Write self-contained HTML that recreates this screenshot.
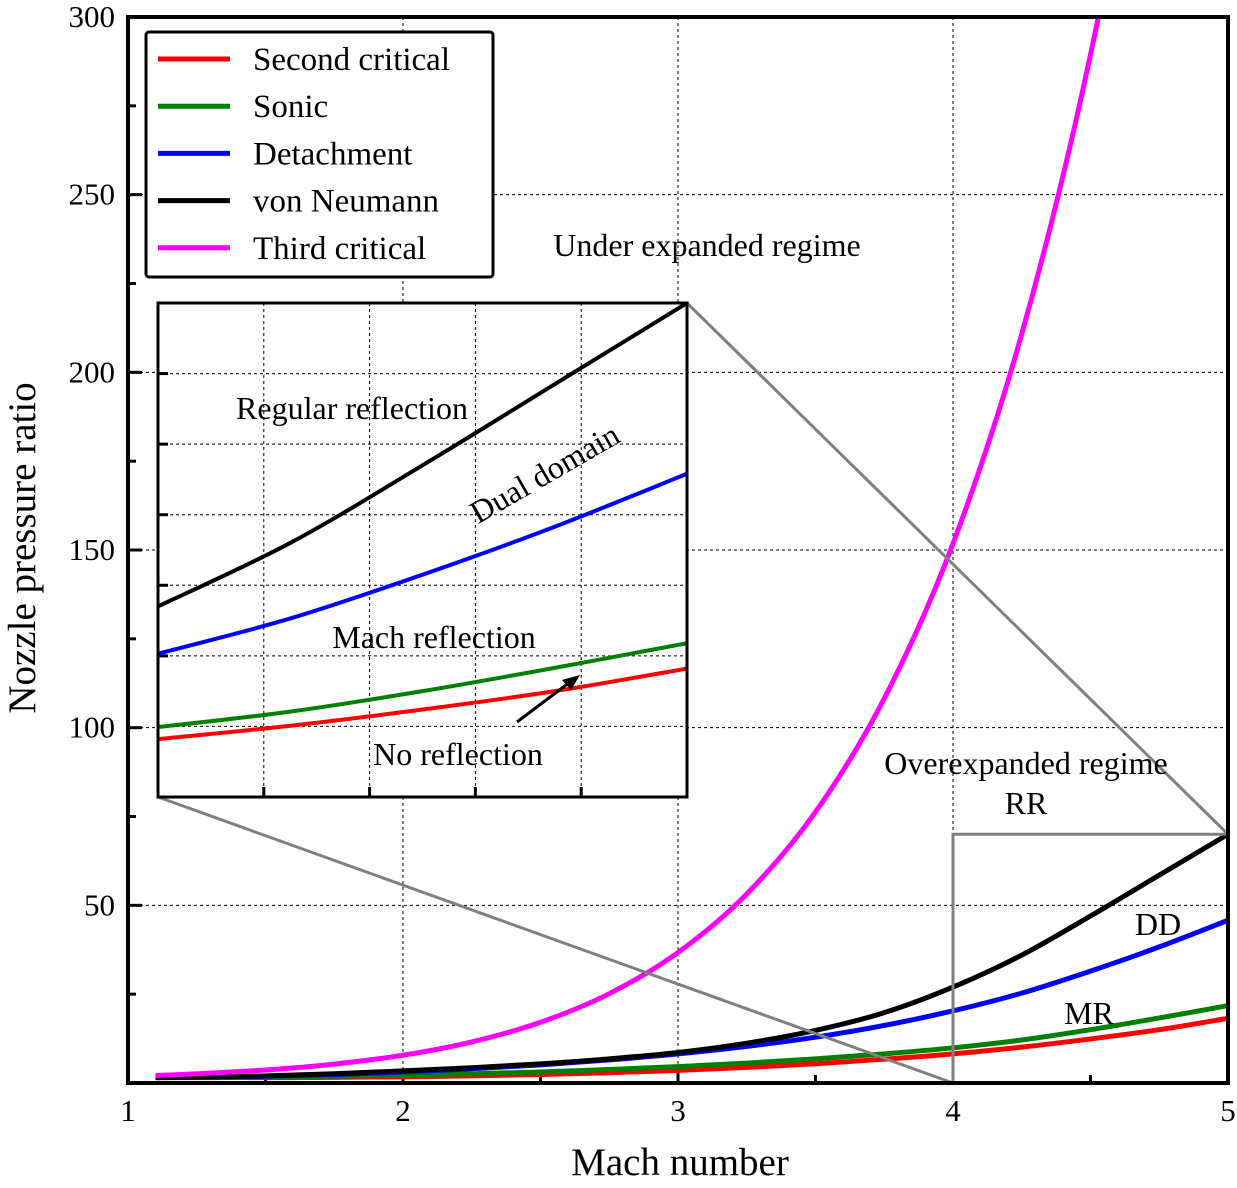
<!DOCTYPE html>
<html><head><meta charset="utf-8">
<style>
html,body{margin:0;padding:0;background:#fff;}
svg{display:block;font-family:"Liberation Serif",serif;}
</style></head>
<body>
<svg id="chart" width="1237" height="1188" viewBox="0 0 1237 1188" xmlns="http://www.w3.org/2000/svg"></svg>
<script>
const machValues = [1.1,1.25,1.5,1.75,2,2.25,2.5,2.75,3,3.25,3.5,3.75,4,4.25,4.5,4.75,5];
const secondCritical = [1.9,1.7,1.5,1.6,1.74,2.0,2.4,2.9,3.55,4.4,5.4,6.7,8.2,10.1,12.4,15.0,18.2];
const sonic = [1.5,1.5,1.6,1.9,2.2,2.6,3.1,3.8,4.6,5.6,6.8,8.2,9.9,12.1,15.0,18.3,21.8];
const detachment = [1.5,1.6,1.9,2.4,3.1,4.0,5.1,6.5,8.2,10.3,12.9,16.2,20.3,25.3,31.5,38.3,45.8];
const vonNeumann = [1.5,1.7,2.0,2.6,3.4,4.3,5.4,6.8,8.6,11.2,14.8,19.8,27.0,36.0,47.0,58.5,70.0];
const thirdCritical = [2.1,2.59,3.67,5.32,7.82,11.56,17.09,25.14,36.73,53.2,76.27,108.2,151.8,210.8,289.4,393,529];
const xTicks = [1,2,3,4,5];
const yTicks = [50,100,150,200,250,300];
const insetXGrid = [4.2,4.4,4.6,4.8];
const insetYGrid = [10,20,30,40,50,60];
const seriesNames = ["Second critical","Sonic","Detachment","von Neumann","Third critical"];
const seriesColors = ["#ff0000","#008000","#0000ff","#000000","#ff00ff"];
const seriesData = [secondCritical,sonic,detachment,vonNeumann,thirdCritical];

const svg = document.getElementById('chart');
const NS = 'http://www.w3.org/2000/svg';
function el(tag, attrs, parent){const e=document.createElementNS(NS,tag);for(const k in attrs)e.setAttribute(k,attrs[k]);(parent||svg).appendChild(e);return e;}

const X0=128,X1=1228,Y0=1083,Y1=17;
const xs=m=>X0+(m-1)/4*(X1-X0);
const ys=v=>Y0-v/300*(Y0-Y1);
const IX0=158,IX1=687,IY0=797,IY1=303;
const ixs=m=>IX0+(m-4)*(IX1-IX0);
const iys=v=>IY0-v/70*(IY0-IY1);

function curvePath(px,py){
  let d='M'+px[0]+','+py[0];
  for(let i=0;i<px.length-1;i++){
    const p0=[px[Math.max(i-1,0)],py[Math.max(i-1,0)]],p1=[px[i],py[i]],p2=[px[i+1],py[i+1]],p3=[px[Math.min(i+2,px.length-1)],py[Math.min(i+2,px.length-1)]];
    const c1=[p1[0]+(p2[0]-p0[0])/6,p1[1]+(p2[1]-p0[1])/6],c2=[p2[0]-(p3[0]-p1[0])/6,p2[1]-(p3[1]-p1[1])/6];
    d+=' C'+c1[0]+','+c1[1]+' '+c2[0]+','+c2[1]+' '+p2[0]+','+p2[1];
  }
  return d;
}

const defs=el('defs',{});
const cp=el('clipPath',{id:'mainclip'},defs);el('rect',{x:X0,y:Y1,width:X1-X0,height:Y0-Y1},cp);
const cp2=el('clipPath',{id:'insetclip'},defs);el('rect',{x:IX0,y:IY1,width:IX1-IX0,height:IY0-IY1},cp2);

xTicks.slice(1,4).forEach(t=>{const g=el('line',{x1:xs(t),x2:xs(t),y1:Y1,y2:Y0,stroke:'#000','stroke-width':1,'stroke-dasharray':'3,3'});

});
yTicks.slice(0,5).forEach(t=>{const g=el('line',{x1:X0,x2:X1,y1:ys(t),y2:ys(t),stroke:'#000','stroke-width':1,'stroke-dasharray':'3,3'});

});

for(let m=1.5;m<5;m+=0.5){const major=Number.isInteger(m);const t=el('line',{x1:xs(m),x2:xs(m),y1:Y0,y2:Y0-(major?14:8),stroke:'#000','stroke-width':3});

}
for(let v=25;v<300;v+=25){const major=v%50===0;const t=el('line',{x1:X0,x2:X0+(major?14:8),y1:ys(v),y2:ys(v),stroke:'#000','stroke-width':3});

}

seriesData.forEach((arr,i)=>{const p=el('path',{d:curvePath(machValues.map(xs),arr.map(ys)),fill:'none',stroke:seriesColors[i],'stroke-width':5,'clip-path':'url(#mainclip)'});

});

const zr=el('path',{d:`M${xs(4)},${Y0} L${xs(4)},${ys(70)} L${X1},${ys(70)}`,fill:'none',stroke:'#808080','stroke-width':3});


const c1=el('line',{x1:IX1,y1:IY1,x2:X1,y2:ys(70),stroke:'#808080','stroke-width':3});


const c2=el('line',{x1:IX0,y1:IY0,x2:xs(4),y2:Y0,stroke:'#808080','stroke-width':3});



const fr=el('rect',{x:X0,y:Y1,width:X1-X0,height:Y0-Y1,fill:'none',stroke:'#000','stroke-width':4});



xTicks.forEach(t=>{const tx=el('text',{x:xs(t),y:1121,'font-size':31,'text-anchor':'middle'});tx.textContent=t;

});
yTicks.forEach(t=>{const tx=el('text',{x:115,y:ys(t)+10,'font-size':31,'text-anchor':'end'});tx.textContent=t;

});
const xt=el('text',{x:680,y:1175,'font-size':39,'text-anchor':'middle'});xt.textContent='Mach number';


const yt=el('text',{x:0,y:0,'font-size':39,'text-anchor':'middle',transform:'translate(35,548) rotate(-90)'});yt.textContent='Nozzle pressure ratio';



[['Under expanded regime',707,256,'under-expanded-label'],['Overexpanded regime',1026,774,'overexpanded-label'],['RR',1026,814,'rr-label'],['DD',1158,935,'dd-label'],['MR',1089,1024,'mr-label']].forEach(a=>{const t=el('text',{x:a[1],y:a[2],'font-size':32,'text-anchor':'middle'});t.textContent=a[0];

});

const lg=el('g',{});


el('rect',{x:146,y:32,width:347,height:245,fill:'#fff',stroke:'#000','stroke-width':3,rx:3},lg);
seriesNames.forEach((n,i)=>{const y=59+i*47.2;
const g=el('g',{},lg);


el('line',{x1:158,x2:230,y1:y,y2:y,stroke:seriesColors[i],'stroke-width':5},g);
const t=el('text',{x:253,y:y+11,'font-size':33},g);t.textContent=n;});

const ig=el('g',{});


el('rect',{x:IX0,y:IY1,width:IX1-IX0,height:IY0-IY1,fill:'#fff'},ig);
insetXGrid.forEach(m=>{el('line',{x1:ixs(m),x2:ixs(m),y1:IY1,y2:IY0,stroke:'#000','stroke-width':1,'stroke-dasharray':'3,3'},ig);
el('line',{x1:ixs(m),x2:ixs(m),y1:IY0,y2:IY0-10,stroke:'#000','stroke-width':3},ig);});
insetYGrid.forEach(v=>{el('line',{x1:IX0,x2:IX1,y1:iys(v),y2:iys(v),stroke:'#000','stroke-width':1,'stroke-dasharray':'3,3'},ig);
el('line',{x1:IX0,x2:IX0+10,y1:iys(v),y2:iys(v),stroke:'#000','stroke-width':3},ig);});
const insetIdx=machValues.map((m,i)=>i).filter(i=>machValues[i]>=4);
[0,1,2,3].forEach(s=>{const p=el('path',{d:curvePath(insetIdx.map(i=>ixs(machValues[i])),insetIdx.map(i=>iys(seriesData[s][i]))),fill:'none',stroke:seriesColors[s],'stroke-width':4,'clip-path':'url(#insetclip)'},ig);

});
el('rect',{x:IX0,y:IY1,width:IX1-IX0,height:IY0-IY1,fill:'none',stroke:'#000','stroke-width':3},ig);
[['Regular reflection',352,419,0,'regular-reflection-label'],['Mach reflection',434,648,0,'mach-reflection-label'],['No reflection',458,765,0,'no-reflection-label'],['Dual domain',545,484,-30,'dual-domain-label']].forEach(a=>{const t=el('text',{x:a[1],y:a[2],'font-size':32,'text-anchor':'middle',transform:`rotate(${a[3]} ${a[1]} ${a[2]-10})`},ig);t.textContent=a[0];

});
const ar=el('g',{},ig);


el('line',{x1:517,y1:722,x2:570,y2:682,stroke:'#000','stroke-width':3},ar);
el('polygon',{points:'580,675 562,680 571,690',fill:'#000'},ar);
</script>
</body></html>
